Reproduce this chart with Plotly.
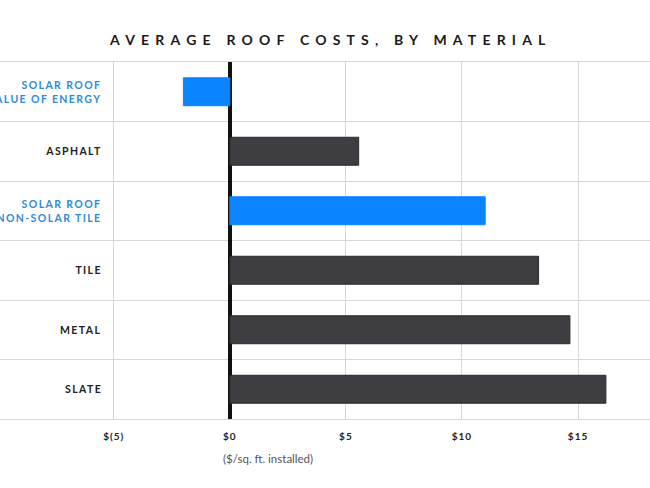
import plotly.graph_objects as go

# ---- data ----
categories = ["SOLAR ROOF<br>VALUE OF ENERGY", "ASPHALT", "SOLAR ROOF<br>NON-SOLAR TILE",
              "TILE", "METAL", "SLATE"]
costs = [-2.0, 5.55, 11.0, 13.3, 14.65, 16.2]
is_solar = [True, False, True, False, False, False]
tick_values = [-5, 0, 5, 10, 15]
tick_labels = ["$(5)", "$0", "$5", "$10", "$15"]
title_text = "AVERAGE ROOF COSTS, BY MATERIAL"
axis_note = "($/sq. ft. installed)"

# ---- styles ----
BLUE_BAR = "#0a84ff"
DARK_BAR = "#3e3e42"
BLUE_TXT = "#2f8ad8"
DARK_TXT = "#222222"
GRID = "#d6d6d6"
FONT = "Lato"

bar_colors = [BLUE_BAR if s else DARK_BAR for s in is_solar]
line_colors = [BLUE_BAR if s else "#2a2a2d" for s in is_solar]

fig = go.Figure(go.Bar(
    x=costs, y=categories, orientation="h",
    marker=dict(color=bar_colors, line=dict(color=line_colors, width=1)),
    hoverinfo="skip",
))

annotations = []
for cat, solar in zip(categories, is_solar):
    annotations.append(dict(
        x=-5.42, xref="x", y=cat, yref="y", xanchor="right", yanchor="middle",
        align="right", showarrow=False, text=cat,
        font=dict(family=FONT, size=10.5, weight=700, color=BLUE_TXT if solar else DARK_TXT),
    ))
annotations.append(dict(
    x=-0.38, xref="x", y=-0.1106, yref="paper", xanchor="left", yanchor="middle",
    showarrow=False, text=axis_note,
    font=dict(family=FONT, size=11.5, color="#555555"),
))

fig.update_layout(
    width=650, height=488,
    margin=dict(l=0, r=0, t=62, b=69),
    paper_bgcolor="white", plot_bgcolor="white",
    showlegend=False,
    bargap=0.53,
    title=dict(text=title_text, x=0.509, xanchor="center", y=1 - 40 / 488, yanchor="middle",
               font=dict(family=FONT, size=14, weight=700, color="#1a1a1a")),
    xaxis=dict(
        range=[-9.9, 18.1], tickvals=tick_values, ticktext=tick_labels,
        showgrid=True, gridcolor=GRID, gridwidth=1,
        zeroline=True, zerolinecolor="#111111", zerolinewidth=3.5,
        showline=True, mirror=True, linecolor=GRID, linewidth=1,
        ticks="", ticklabelstandoff=8,
        tickfont=dict(family=FONT, size=10, weight=700, color=DARK_TXT),
        fixedrange=True,
    ),
    yaxis=dict(
        type="category", categoryorder="array", categoryarray=categories,
        autorange="reversed", tickson="boundaries",
        showgrid=True, gridcolor=GRID, gridwidth=1,
        showticklabels=False, ticks="", zeroline=False, fixedrange=True,
    ),
    annotations=annotations,
)

post_script = """
document.body.style.margin = '0';
var gd = document.getElementById('{plot_id}');
function applyTracking(){
  gd.querySelectorAll('.gtitle').forEach(function(e){ e.style.letterSpacing = '6.2px'; });
  gd.querySelectorAll('.annotation-text').forEach(function(e){
    if (e.textContent.indexOf('installed') < 0) { e.style.letterSpacing = '1.4px'; }
  });
  gd.querySelectorAll('.xtick text').forEach(function(e){ e.style.letterSpacing = '1px'; });
}
applyTracking();
gd.on('plotly_afterplot', applyTracking);
"""

fig.write_html("out.html", post_script=post_script, config={"displayModeBar": False})
